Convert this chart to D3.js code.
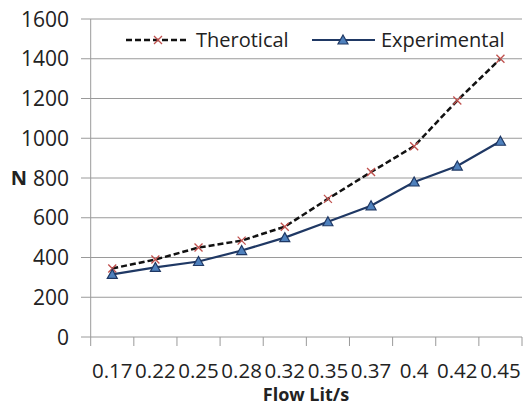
<!DOCTYPE html>
<html><head><meta charset="utf-8">
<script src="https://cdn.jsdelivr.net/npm/d3@7"></script>
<style>body{margin:0;background:#fff}svg{display:block}text{font-family:"Open Sans",sans-serif}</style>
</head><body>
<script>
const categories = ["0.17","0.22","0.25","0.28","0.32","0.35","0.37","0.4","0.42","0.45"];
const theoretical = [345,390,450,485,555,695,830,960,1190,1400];
const experimental = [315,350,380,435,500,580,660,780,860,985];
const yTicks = [0,200,400,600,800,1000,1200,1400,1600];
const seriesNames = ["Therotical","Experimental"];

const W=529,H=409;
const svg=d3.select("body").append("svg").attr("width",W).attr("height",H);
const x=d3.scaleBand().domain(categories).range([90.7,522]).padding(0);
const y=d3.scaleLinear().domain([0,1600]).range([337,19]);
const grid="#9a9a9a";

// gridlines + y ticks
svg.append("g").selectAll("line").data(yTicks).join("line")
  .attr("x1",81).attr("x2",522).attr("y1",d=>y(d)).attr("y2",d=>y(d))
  .attr("stroke",grid).attr("stroke-width",1);
// y axis line
svg.append("line").attr("x1",x.range()[0]).attr("x2",x.range()[0]).attr("y1",y(1600)).attr("y2",y(0)).attr("stroke",grid);
// y labels
svg.append("g").selectAll("text").data(yTicks).join("text")
  .attr("x",69).attr("y",d=>y(d)).attr("dy","0.36em").attr("text-anchor","end")
  .attr("font-size",21).attr("fill","#222").text(d=>d);

// x tick marks at band edges
const edges=categories.map(c=>x(c)).concat([x.range()[1]]);
svg.append("g").selectAll("line").data(edges).join("line")
  .attr("x1",d=>d).attr("x2",d=>d).attr("y1",y(0)).attr("y2",y(0)+9).attr("stroke",grid);
// x labels
svg.append("g").selectAll("text").data(categories).join("text")
  .attr("x",d=>x(d)+x.bandwidth()/2).attr("y",378).attr("text-anchor","middle")
  .attr("font-size",20.5).attr("fill","#222").text(d=>d);

// axis titles
svg.append("text").attr("x",306).attr("y",401).attr("text-anchor","middle").attr("font-size",18).attr("font-weight","bold").attr("fill","#222").text("Flow Lit/s");
svg.append("text").attr("x",19).attr("y",y(800)).attr("dy","0.36em").attr("text-anchor","middle").attr("font-size",20).attr("font-weight","bold").attr("fill","#222").text("N");

const cx=d=>x(d)+x.bandwidth()/2;
const line=d3.line().x((d,i)=>cx(categories[i])).y(d=>y(d));

const redX="#c0504d", navy="#1f3864", steel="#4f81bd";
function xMark(g,px,py){
  const s=4;
  g.append("path").attr("d",`M${px-s},${py-s}L${px+s},${py+s}M${px-s},${py+s}L${px+s},${py-s}`).attr("stroke",redX).attr("stroke-width",1.3).attr("fill","none");
}
function triMark(g,px,py){
  const s=5;
  g.append("path").attr("d",`M${px},${py-s}L${px+s},${py+s*0.8}L${px-s},${py+s*0.8}Z`).attr("fill",steel).attr("stroke",navy).attr("stroke-width",1.2);
}

// theoretical line
svg.append("path").datum(theoretical).attr("d",line).attr("fill","none").attr("stroke","#111").attr("stroke-width",2.5).attr("stroke-dasharray","6,3");
const gT=svg.append("g");
theoretical.forEach((v,i)=>xMark(gT,cx(categories[i]),y(v)));

// experimental line
svg.append("path").datum(experimental).attr("d",line).attr("fill","none").attr("stroke",navy).attr("stroke-width",2.2);
const gE=svg.append("g");
experimental.forEach((v,i)=>triMark(gE,cx(categories[i]),y(v)));

// legend
const lg=svg.append("g");
lg.append("line").attr("x1",126).attr("x2",189).attr("y1",40).attr("y2",40).attr("stroke","#111").attr("stroke-width",2.5).attr("stroke-dasharray","6,3");
xMark(lg,158,40);
lg.append("text").attr("x",196).attr("y",40).attr("dy","0.36em").attr("font-size",20).attr("fill","#222").text(seriesNames[0]);
lg.append("line").attr("x1",312).attr("x2",375).attr("y1",40).attr("y2",40).attr("stroke",navy).attr("stroke-width",2.2);
triMark(lg,343,40);
lg.append("text").attr("x",381).attr("y",40).attr("dy","0.36em").attr("font-size",20).attr("fill","#222").text(seriesNames[1]);
</script>
</body></html>
